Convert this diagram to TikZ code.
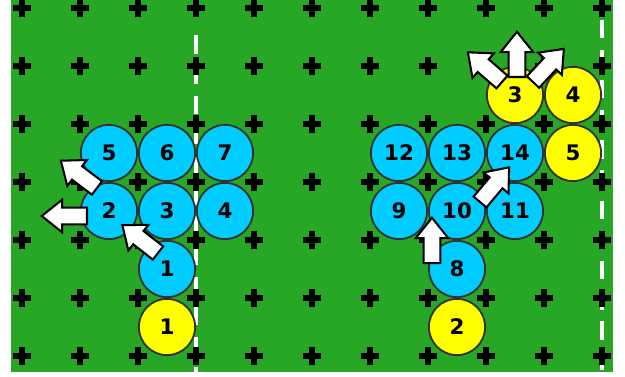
\documentclass[tikz,border=0pt]{standalone}
\usepackage{fontspec}
\setmainfont{DejaVu Sans}
\usetikzlibrary{positioning}
\definecolor{grass}{RGB}{40,166,38}
\definecolor{mate}{RGB}{0,204,255}
\definecolor{rival}{RGB}{255,255,0}
\tikzset{
  disc/.style={circle, draw=black!80, line width=0.9pt, minimum size=0.97cm,
    inner sep=0pt, font=\fontsize{10.5}{10.5}\selectfont\bfseries},
  matedisc/.style={disc, fill=mate},
  rivaldisc/.style={disc, fill=rival},
  cross/.style={line width=3.1pt, black},
  sideline/.style={white, line width=2pt, dash pattern=on 0.32cm off 0.2cm},
  arrowbody/.style={fill=white, draw=black, line width=1pt, line join=miter},
  mvarrow/.pic={\draw[arrowbody] (0,-0.145) -- (0.43,-0.145) -- (0.43,-0.28)
    -- (0.78,0) -- (0.43,0.28) -- (0.43,0.145) -- (0,0.145) -- cycle;}
}
\begin{document}
\begin{tikzpicture}
  \useasboundingbox (-0.3793,0.1379) rectangle (10.3966,-6.3621);
  % field
  \fill[grass] (-0.19,0.1379) rectangle (10.19,-6.276);
  \draw[sideline] (3,-0.47) -- (3,-6.276);
  \draw[sideline] (10,-0.2) -- (10,-6.276);
  \foreach \i in {0,...,10}
    \foreach \j in {0,...,6} {
      \draw[cross] (\i-0.16,-\j) -- (\i+0.16,-\j);
      \draw[cross] (\i,-\j-0.16) -- (\i,-\j+0.16);
    }

  % left group
  \node[matedisc] (b5) at (1.5,-2.5) {5};
  \node[matedisc] (b6) at (2.5,-2.5) {6};
  \node[matedisc] (b7) at (3.5,-2.5) {7};
  \node[matedisc] (b2) at (1.5,-3.5) {2};
  \node[matedisc] (b3) at (2.5,-3.5) {3};
  \node[matedisc] (b4) at (3.5,-3.5) {4};
  \node[matedisc] (b1) at (2.5,-4.5) {1};
  \node[rivaldisc] (y1) at (2.5,-5.5) {1};

  % right group
  \node[rivaldisc] (y3) at (8.5,-1.5) {3};
  \node[rivaldisc] (y4) at (9.5,-1.5) {4};
  \node[matedisc] (b12) at (6.5,-2.5) {12};
  \node[matedisc] (b13) at (7.5,-2.5) {13};
  \node[matedisc] (b14) at (8.5,-2.5) {14};
  \node[rivaldisc] (y5) at (9.5,-2.5) {5};
  \node[matedisc] (b9) at (6.5,-3.5) {9};
  \node[matedisc] (b10) at (7.5,-3.5) {10};
  \node[matedisc] (b11) at (8.5,-3.5) {11};
  \node[matedisc] (b8) at (7.5,-4.5) {8};
  \node[rivaldisc] (y2) at (7.5,-5.5) {2};

  % moves
  \pic[rotate=143] at (1.293,-3.103) {mvarrow};
  \pic[rotate=180] at (1.121,-3.586) {mvarrow};
  \pic[rotate=142] at (2.345,-4.224) {mvarrow};
  \pic[rotate=90] at (7.069,-4.397) {mvarrow};
  \pic[rotate=50] at (7.897,-3.345) {mvarrow};
  \pic[rotate=90] at (8.534,-1.19) {mvarrow};
  \pic[rotate=139] at (8.276,-1.276) {mvarrow};
  \pic[rotate=47] at (8.81,-1.276) {mvarrow};
\end{tikzpicture}
\end{document}
